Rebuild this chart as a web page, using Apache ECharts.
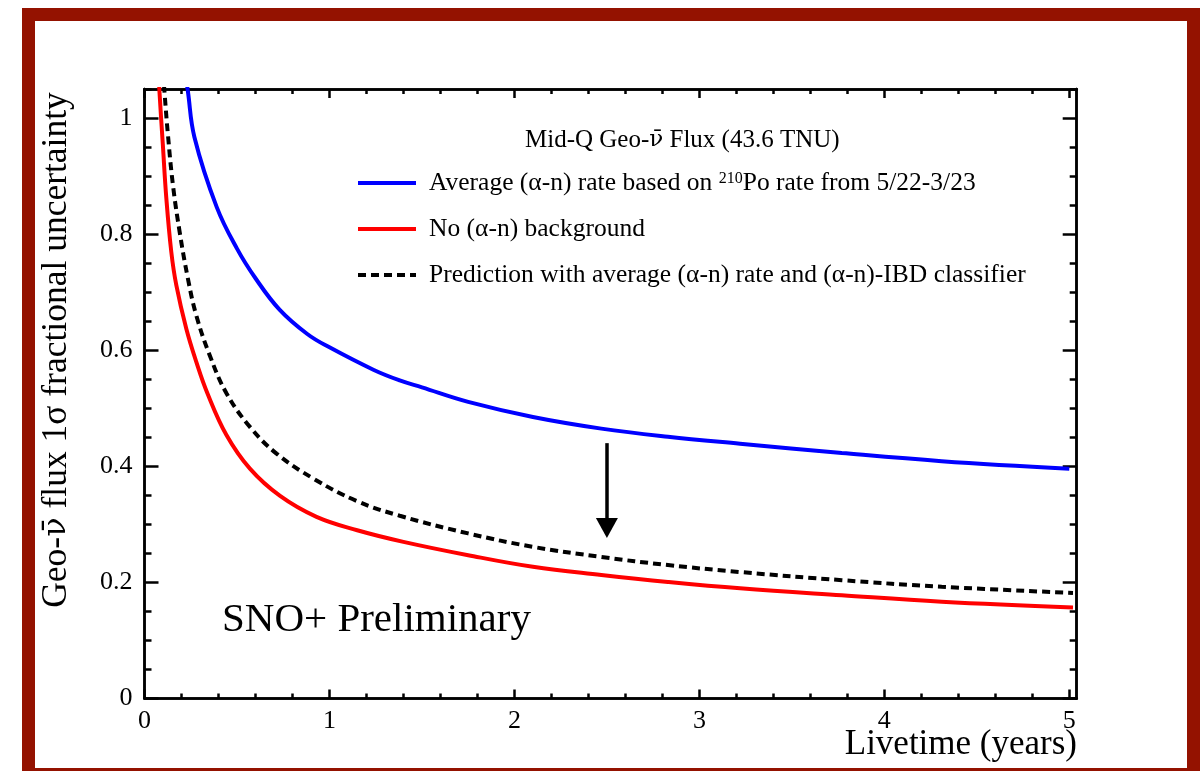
<!DOCTYPE html>
<html>
<head>
<meta charset="utf-8">
<script src="https://cdn.jsdelivr.net/npm/echarts@6/dist/echarts.min.js"></script>
<style>html,body{margin:0;padding:0;background:#fff;}#c{width:1203px;height:771px;}</style>
</head>
<body>
<div id="c"></div>
<script>
// ---- data ----
const blueName = 'Average (α-n) rate based on 210Po rate from 5/22-3/23';
const redName = 'No (α-n) background';
const blackName = 'Prediction with average (α-n) rate and (α-n)-IBD classifier';

const blueX = [0.22, 0.235, 0.27, 0.39, 0.5, 0.6, 0.73, 0.88, 1.0, 1.24, 1.38, 1.5, 1.75, 2.1, 2.47, 2.83, 3.22, 3.77, 4.31, 5.0];
const blueY = [1.08, 1.045, 0.967, 0.847, 0.775, 0.724, 0.67, 0.628, 0.605, 0.566, 0.548, 0.536, 0.511, 0.485, 0.465, 0.451, 0.439, 0.423, 0.409, 0.396];

const redX = [0.076, 0.081, 0.099, 0.118, 0.145, 0.172, 0.226, 0.28, 0.34, 0.443, 0.57, 0.733, 0.93, 1.15, 1.4, 1.75, 2.1, 2.47, 2.83, 3.22, 3.77, 4.31, 5.02];
const redY = [1.08, 1.045, 0.955, 0.862, 0.769, 0.712, 0.637, 0.58, 0.526, 0.454, 0.396, 0.349, 0.313, 0.29, 0.27, 0.247, 0.227, 0.213, 0.201, 0.19, 0.178, 0.167, 0.157];

const blackX = [0.100, 0.108, 0.127, 0.154, 0.19, 0.235, 0.28, 0.353, 0.443, 0.57, 0.714, 0.913, 1.15, 1.38, 1.75, 2.1, 2.47, 2.83, 3.22, 3.77, 4.31, 5.02];
const blackY = [1.08, 1.045, 0.97, 0.884, 0.804, 0.723, 0.66, 0.591, 0.526, 0.468, 0.422, 0.379, 0.34, 0.315, 0.2845, 0.2614, 0.244, 0.23, 0.218, 0.204, 0.1926, 0.182];

const arrowX = 2.5;
const arrowFromY = 0.44;
const arrowToY = 0.294;

const xMajorTicks = [0, 1, 2, 3, 4, 5];
const xMinorTicks = [0.2,0.4,0.6,0.8,1.2,1.4,1.6,1.8,2.2,2.4,2.6,2.8,3.2,3.4,3.6,3.8,4.2,4.4,4.6,4.8];
const yMajorTicks = [0, 0.2, 0.4, 0.6, 0.8, 1];
const yMinorTicks = [0.05,0.1,0.15,0.25,0.3,0.35,0.45,0.5,0.55,0.65,0.7,0.75,0.85,0.9,0.95,1.05];
const xRange = [0, 5.04];
const yRange = [0, 1.05];

// ---- chart ----
const FONT = "'Liberation Serif', 'Times New Roman', 'DejaVu Serif', serif";
const NUFONT = "'DejaVu Serif', serif";
const NUBAR = 'ν\u0304';
function zip(xs, ys) { return xs.map((x, i) => [x, ys[i]]); }

const chart = echarts.init(document.getElementById('c'), null, {renderer: 'canvas'});

function xAx(pos, ticks, len, labels) {
  return {
    type: 'value', position: pos, min: xRange[0], max: xRange[1],
    axisLine: {show: true, onZero: false, lineStyle: {color: '#000', width: 2.5}},
    axisTick: {show: true, inside: true, length: len, customValues: ticks, lineStyle: {color: '#000', width: 2.5}},
    axisLabel: labels ? {show: true, customValues: ticks, color: '#000', fontSize: 26, fontFamily: FONT, margin: 10,
      formatter: v => String(v)} : {show: false},
    splitLine: {show: false}
  };
}
function yAx(pos, ticks, len, labels) {
  return {
    type: 'value', position: pos, min: yRange[0], max: yRange[1],
    axisLine: {show: true, onZero: false, lineStyle: {color: '#000', width: 2.5}},
    axisTick: {show: true, inside: true, length: len, customValues: ticks, lineStyle: {color: '#000', width: 2.5}},
    axisLabel: labels ? {show: true, customValues: ticks, color: '#000', fontSize: 26, fontFamily: FONT, margin: 12,
      formatter: v => String(v)} : {show: false},
    splitLine: {show: false}
  };
}

const legendRich = {
  f: {fontSize: 25.5, fontFamily: FONT, color: '#000', padding: [0, 0, 0, 8]},
  a: {fontSize: 25.5, fontFamily: FONT, color: '#000'},
  s: {fontSize: 16, fontFamily: FONT, color: '#000', lineHeight: 16, padding: [0, 0, 9, 0]}
};
const legendText = {};
legendText[blueName] = '{f|Average (α-n) rate based on }{s|210}{a|Po rate from 5/22-3/23}';
legendText[redName] = '{f|No (α-n) background}';
legendText[blackName] = '{f|Prediction with average (α-n) rate and (α-n)-IBD classifier}';

const option = {
  animation: false,
  backgroundColor: '#fff',
  grid: {left: 144.5, top: 89, width: 932.2, height: 609.6, containLabel: false},
  xAxis: [
    xAx('bottom', xMajorTicks, 9, true),
    xAx('bottom', xMinorTicks, 5, false),
    xAx('top', xMajorTicks, 9, false),
    xAx('top', xMinorTicks, 5, false)
  ],
  yAxis: [
    yAx('left', yMajorTicks, 14, true),
    yAx('left', yMinorTicks, 7, false),
    yAx('right', yMajorTicks, 14, false),
    yAx('right', yMinorTicks, 7, false)
  ],
  legend: {
    orient: 'vertical', left: 356, top: 168, padding: 0,
    itemWidth: 58, itemHeight: 14, itemGap: 16,
    selectedMode: false,
    data: [blueName, redName, blackName],
    itemStyle: {opacity: 0},
    lineStyle: {width: 4},
    formatter: name => legendText[name],
    textStyle: {lineHeight: 30, fontSize: 25.5, fontFamily: FONT, color: '#000', rich: legendRich}
  },
  series: [
    {
      name: blueName, type: 'line', data: zip(blueX, blueY), showSymbol: false, symbol: 'none',
      smooth: 0.4, clip: true,
      lineStyle: {color: '#0000ff', width: 4}, itemStyle: {color: '#0000ff'}
    },
    {
      name: redName, type: 'line', data: zip(redX, redY), showSymbol: false, symbol: 'none',
      smooth: 0.4, clip: true,
      lineStyle: {color: '#ff0000', width: 4}, itemStyle: {color: '#ff0000'}
    },
    {
      name: blackName, type: 'line', data: zip(blackX, blackY), showSymbol: false, symbol: 'none',
      smooth: 0.4, clip: true,
      lineStyle: {color: '#000', width: 4, type: [8, 5], cap: 'butt'}, itemStyle: {color: '#000'},
      markLine: {
        silent: true, animation: false,
        symbol: ['none', 'triangle'], symbolSize: [22, 20],
        label: {show: false},
        lineStyle: {color: '#000', width: 3.5, type: 'solid'},
        itemStyle: {color: '#000'},
        data: [[{coord: [arrowX, arrowFromY]}, {coord: [arrowX, arrowToY]}]]
      }
    }
  ],
  graphic: [
    {type: 'rect', silent: true, z: 100,
      shape: {x: 28.5, y: 14.5, width: 1165, height: 760},
      style: {fill: 'none', stroke: '#941200', lineWidth: 13}},
    {type: 'text', silent: true, x: 525, y: 140,
      style: {text: '{a|Mid-Q Geo-}{n|' + NUBAR + '}{a| Flux (43.6 TNU)}', fill: '#000',
        textAlign: 'left', textVerticalAlign: 'middle', verticalAlign: 'middle',
        rich: {a: {fontSize: 25, fontFamily: FONT, fill: '#000'}, n: {fontSize: 23, fontFamily: NUFONT, fill: '#000'}}}},
    {type: 'text', silent: true, x: 222, y: 620,
      style: {text: 'SNO+ Preliminary', font: '41px ' + FONT, fill: '#000',
        textAlign: 'left', textVerticalAlign: 'middle', verticalAlign: 'middle'}},
    {type: 'text', silent: true, x: 1077, y: 745,
      style: {text: 'Livetime (years)', font: '35px ' + FONT, fill: '#000',
        textAlign: 'right', textVerticalAlign: 'middle', verticalAlign: 'middle'}},
    {type: 'text', silent: true, x: 57, y: 350, rotation: Math.PI / 2,
      style: {text: '{a|Geo-}{n|' + NUBAR + '}{a| flux 1σ fractional uncertainty}', fill: '#000',
        textAlign: 'center', textVerticalAlign: 'middle', verticalAlign: 'middle',
        rich: {a: {fontSize: 35.5, fontFamily: FONT, fill: '#000'}, n: {fontSize: 32, fontFamily: NUFONT, fill: '#000'}}}}
  ]
};
chart.setOption(option);
</script>
</body>
</html>
